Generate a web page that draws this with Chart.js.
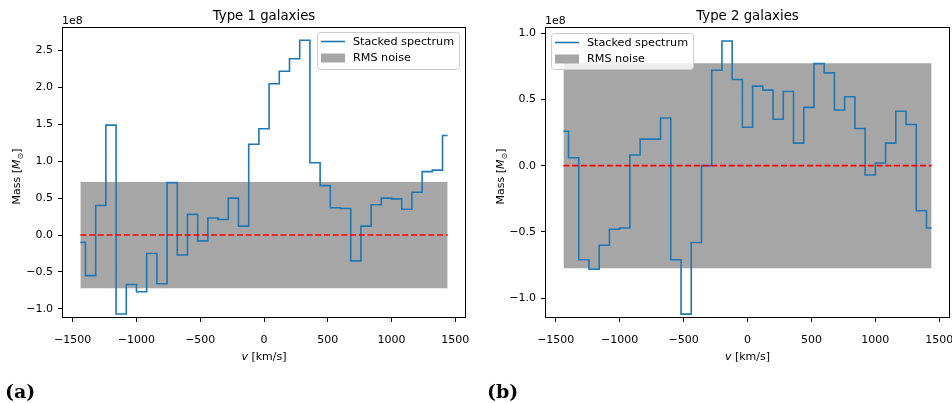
<!DOCTYPE html>
<html>
<head>
<meta charset="utf-8">
<script src="https://cdn.jsdelivr.net/npm/chart.js@4.4.0/dist/chart.umd.min.js"></script>
<style>
  body { margin: 0; background: #fff; }
  #page { position: relative; width: 952px; height: 403px; overflow: hidden; }
  canvas { position: absolute; top: 0; }
</style>
</head>
<body>
<div id="page">
  <canvas id="panelA" width="476" height="403" style="left:0px"></canvas>
  <canvas id="panelB" width="476" height="403" style="left:476px"></canvas>
</div>
<script>
// velocity bin centres [km/s]
const velocity = [-1440, -1360, -1280, -1200, -1120, -1040, -960, -880, -800, -720,
    -640, -560, -480, -400, -320, -240, -160, -80, 0, 80, 160, 240, 320, 400, 480,
    560, 640, 720, 800, 880, 960, 1040, 1120, 1200, 1280, 1360, 1440];

// stacked mass per bin, units of 1e8 Msun
const type1Mass = [-0.10, -0.55, 0.40, 1.49, -1.07, -0.67, -0.77, -0.25, -0.66, 0.71,
    -0.27, 0.28, -0.08, 0.23, 0.21, 0.50, 0.12, 1.23, 1.44, 2.05, 2.22, 2.39, 2.64,
    0.98, 0.67, 0.37, 0.36, -0.35, 0.12, 0.41, 0.50, 0.49, 0.35, 0.58, 0.86, 0.88, 1.35];
const type2Mass = [0.26, 0.06, -0.71, -0.78, -0.60, -0.48, -0.47, 0.08, 0.20, 0.20,
    0.36, -0.71, -1.12, -0.58, 0.00, 0.72, 0.94, 0.65, 0.29, 0.60, 0.57, 0.35, 0.56,
    0.17, 0.44, 0.77, 0.70, 0.42, 0.52, 0.28, -0.07, 0.02, 0.17, 0.41, 0.31, -0.34, -0.47];

const rmsNoise1 = 0.72;
const rmsNoise2 = 0.773;

const xTicks = [-1500, -1000, -500, 0, 500, 1000, 1500];
const yTicks1 = [-1.0, -0.5, 0.0, 0.5, 1.0, 1.5, 2.0, 2.5];
const yTicks2 = [-1.0, -0.5, 0.0, 0.5, 1.0];

const FONT = "'DejaVu Sans', sans-serif";
const MINUS = '\u2212';

function fmt(v, digits) {
    let s = v.toFixed(digits);
    return s.startsWith('-') ? MINUS + s.slice(1) : s;
}

// draws a run of [text, font, dy] pieces centred on x
function drawPieces(ctx, pieces, cx, baseline) {
    let total = 0;
    pieces.forEach(p => { ctx.font = p[1]; total += ctx.measureText(p[0]).width; });
    let x = cx - total / 2;
    ctx.textAlign = 'left';
    ctx.textBaseline = 'alphabetic';
    pieces.forEach(p => {
        ctx.font = p[1];
        ctx.fillText(p[0], x, baseline + (p[2] || 0));
        x += ctx.measureText(p[0]).width;
    });
}

const decorations = {
    id: 'decorations',
    afterDraw(chart, args, opts) {
        const { ctx, chartArea: a } = chart;
        ctx.save();

        // axes frame
        ctx.strokeStyle = '#000';
        ctx.lineWidth = 1;
        ctx.strokeRect(a.left + 0.5, a.top + 0.5, a.right - a.left - 1, a.bottom - a.top - 1);

        ctx.fillStyle = '#000';
        const cx = (a.left + a.right) / 2;

        // title
        ctx.font = `13.3px ${FONT}`;
        ctx.textAlign = 'center';
        ctx.textBaseline = 'alphabetic';
        ctx.fillText(opts.title, cx, 20);

        // offset text
        ctx.font = `11px ${FONT}`;
        ctx.textAlign = 'left';
        ctx.fillText('1e8', a.left, 24);

        // x label
        drawPieces(ctx, [['v', `italic 11px ${FONT}`], [' [km/s]', `11px ${FONT}`]], cx, 360);

        // y label
        ctx.save();
        ctx.translate(opts.yLabelX, (a.top + a.bottom) / 2 + 4);
        ctx.rotate(-Math.PI / 2);
        drawPieces(ctx, [
            ['Mass [', `11px ${FONT}`],
            ['M', `italic 11px ${FONT}`],
            ['\u2299', `8px ${FONT}`, 2.5],
            [']', `11px ${FONT}`]
        ], 0, 4);
        ctx.restore();

        // legend
        const lg = opts.legend;
        ctx.fillStyle = 'rgba(255,255,255,0.8)';
        ctx.strokeStyle = '#cccccc';
        ctx.lineWidth = 1;
        ctx.beginPath();
        ctx.roundRect(lg.x + 0.5, lg.y + 0.5, lg.w, lg.h, 3);
        ctx.fill();
        ctx.stroke();

        ctx.strokeStyle = '#1f77b4';
        ctx.lineWidth = 1.6;
        ctx.beginPath();
        ctx.moveTo(lg.x + 4, lg.y + 9.5);
        ctx.lineTo(lg.x + 28, lg.y + 9.5);
        ctx.stroke();

        ctx.fillStyle = 'rgba(128,128,128,0.7)';
        ctx.fillRect(lg.x + 4, lg.y + 21.5, 24, 9);

        ctx.fillStyle = '#000';
        ctx.font = `11.2px ${FONT}`;
        ctx.textBaseline = 'middle';
        ctx.fillText('Stacked spectrum', lg.x + 36, lg.y + 10);
        ctx.fillText('RMS noise', lg.x + 36, lg.y + 26);

        // panel tag
        ctx.font = "bold 19px 'DejaVu Serif', serif";
        ctx.textBaseline = 'alphabetic';
        ctx.fillText(opts.tag, opts.tagX, 398);

        ctx.restore();
    }
};

function makePanel(canvasId, mass, rms, yTicks, yMin, yMax, panel) {
    const xFirst = velocity[0];
    const xLast = velocity[velocity.length - 1];
    const canvas = document.getElementById(canvasId);
    const area = panel.area;

    return new Chart(canvas, {
        type: 'line',
        data: {
            datasets: [{
                label: 'RMS noise',
                data: [{ x: xFirst, y: rms }, { x: xLast, y: rms }],
                fill: '+1',
                backgroundColor: 'rgba(128,128,128,0.7)',
                borderWidth: 0,
                pointRadius: 0,
                order: 3
            }, {
                label: 'RMS noise lower',
                data: [{ x: xFirst, y: -rms }, { x: xLast, y: -rms }],
                fill: false,
                borderWidth: 0,
                pointRadius: 0,
                order: 3
            }, {
                label: 'Stacked spectrum',
                data: velocity.map((v, i) => ({ x: v, y: mass[i] })),
                stepped: 'middle',
                borderColor: '#1f77b4',
                borderWidth: 1.6,
                pointRadius: 0,
                fill: false,
                order: 2
            }, {
                label: 'zero',
                data: [{ x: xFirst, y: 0 }, { x: xLast, y: 0 }],
                borderColor: '#ff0000',
                borderDash: [6, 2.7],
                borderWidth: 1.7,
                pointRadius: 0,
                fill: false,
                order: 1
            }]
        },
        options: {
            responsive: false,
            animation: false,
            events: [],
            layout: {
                padding: {
                    left: 0,
                    top: area.top,
                    right: canvas.width - area.right,
                    bottom: canvas.height - area.bottom - 30
                }
            },
            scales: {
                x: {
                    type: 'linear',
                    min: -1584,
                    max: 1584,
                    afterFit: s => { s.height = 30; s.paddingLeft = 0; s.paddingRight = 0; },
                    afterBuildTicks: s => { s.ticks = xTicks.map(v => ({ value: v })); },
                    border: { display: false },
                    grid: { drawOnChartArea: false, drawTicks: true, tickLength: 4, tickColor: '#000' },
                    ticks: {
                        color: '#000',
                        font: { family: FONT, size: 11 },
                        padding: 12,
                        maxRotation: 0,
                        callback: v => fmt(v, 0)
                    }
                },
                y: {
                    type: 'linear',
                    min: yMin,
                    max: yMax,
                    afterFit: s => { s.width = area.left; s.paddingTop = 0; s.paddingBottom = 0; },
                    afterBuildTicks: s => { s.ticks = yTicks.map(v => ({ value: v })); },
                    border: { display: false },
                    grid: { drawOnChartArea: false, drawTicks: true, tickLength: 4, tickColor: '#000' },
                    ticks: {
                        color: '#000',
                        font: { family: FONT, size: 11 },
                        padding: 5,
                        callback: v => fmt(v, 1)
                    }
                }
            },
            plugins: {
                legend: { display: false },
                tooltip: { enabled: false },
                decorations: panel
            }
        },
        plugins: [decorations]
    });
}

makePanel('panelA', type1Mass, rmsNoise1, yTicks1, -1.125, 2.82, {
    title: 'Type 1 galaxies',
    area: { left: 62, right: 466, top: 27, bottom: 318 },
    legend: { x: 317, y: 32, w: 142, h: 37 },
    yLabelX: 16,
    tag: '(a)',
    tagX: 5
});

makePanel('panelB', type2Mass, rmsNoise2, yTicks2, -1.149, 1.046, {
    title: 'Type 2 galaxies',
    area: { left: 69, right: 474, top: 27, bottom: 318 },
    legend: { x: 75, y: 33, w: 142, h: 36 },
    yLabelX: 24,
    tag: '(b)',
    tagX: 11
});
</script>
</body>
</html>
